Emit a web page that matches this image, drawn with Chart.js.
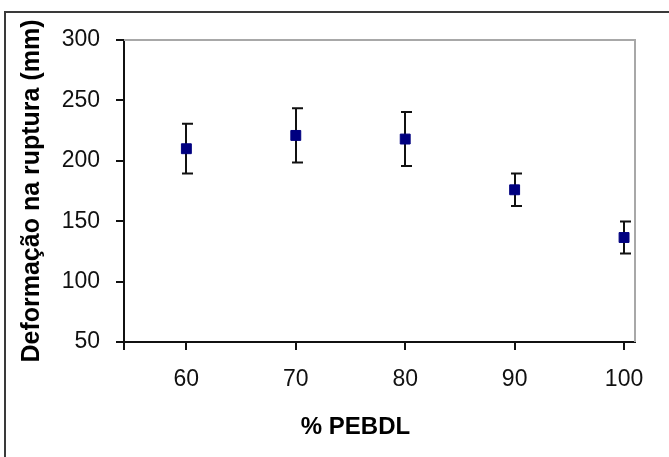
<!DOCTYPE html>
<html>
<head>
<meta charset="utf-8">
<script src="https://cdn.jsdelivr.net/npm/chart.js@4"></script>
<style>
  body { margin: 0; background: #fff; }
</style>
</head>
<body>
<canvas id="chart" width="669" height="457"></canvas>
<script>
// data
const pebdl = [60, 70, 80, 90, 100];
const deformacao = [210, 221, 218, 176, 136.5];
const erro = [20.6, 22.4, 22.4, 13.4, 13.2];
const xTicks = [60, 70, 80, 90, 100];
const yTicks = [50, 100, 150, 200, 250, 300];
const xMin = 54.3, xMax = 101;

const fontFamily = "'Liberation Sans', Arial, sans-serif";

// white page + outer frame (top and left edges only show)
const framePlugin = {
  id: "frame",
  beforeDraw(chart) {
    const ctx = chart.ctx;
    ctx.save();
    ctx.fillStyle = "#fff";
    ctx.fillRect(0, 0, chart.width, chart.height);
    ctx.fillStyle = "#3a3a3a";
    ctx.fillRect(4, 11, chart.width, 2);
    ctx.fillRect(4, 11, 2, chart.height);
    ctx.restore();
  }
};

// grey top/right plot edges and the error bars
const errorBarPlugin = {
  id: "errorBars",
  beforeDatasetsDraw(chart) {
    const ctx = chart.ctx, a = chart.chartArea;
    const xs = chart.scales.x, ys = chart.scales.y;
    ctx.save();
    ctx.strokeStyle = "#a8a8a8";
    ctx.lineWidth = 2;
    ctx.beginPath();
    ctx.moveTo(a.left, a.top);
    ctx.lineTo(a.right, a.top);
    ctx.lineTo(a.right, a.bottom);
    ctx.stroke();

    ctx.strokeStyle = "#111";
    ctx.lineWidth = 2;
    for (let i = 0; i < pebdl.length; i++) {
      const x = Math.round(xs.getPixelForValue(pebdl[i]));
      const top = ys.getPixelForValue(deformacao[i] + erro[i]);
      const bot = ys.getPixelForValue(deformacao[i] - erro[i]);
      ctx.beginPath();
      ctx.moveTo(x, top);
      ctx.lineTo(x, bot);
      ctx.moveTo(x - 4, top);
      ctx.lineTo(x + 7, top);
      ctx.moveTo(x - 4, bot);
      ctx.lineTo(x + 7, bot);
      ctx.stroke();
    }
    ctx.restore();
  }
};

const axisGrid = { drawOnChartArea: false, drawTicks: true, tickLength: 8, color: "#111", lineWidth: 2 };
const axisBorder = { color: "#111", width: 2 };

new Chart(document.getElementById("chart"), {
  type: "scatter",
  data: {
    datasets: [{
      data: pebdl.map((v, i) => ({ x: v, y: deformacao[i] })),
      pointStyle: "rect",
      pointRadius: 7,
      backgroundColor: "#000080",
      borderColor: "#000080",
      borderWidth: 1
    }]
  },
  options: {
    responsive: false,
    animation: false,
    devicePixelRatio: 1,
    layout: { padding: { left: 42, right: 0, top: 40, bottom: 0 } },
    plugins: {
      legend: { display: false },
      tooltip: { enabled: false },
      title: {
        display: true,
        position: "bottom",
        text: "% PEBDL",
        color: "#000",
        font: { family: fontFamily, size: 24, weight: "bold" },
        padding: { top: 0, bottom: 15 }
      }
    },
    scales: {
      x: {
        type: "linear",
        min: xMin,
        max: xMax,
        afterBuildTicks: axis => { axis.ticks = [xMin].concat(xTicks).map(v => ({ value: v })); },
        afterFit: axis => { axis.height = 71.2; },
        grid: axisGrid,
        border: axisBorder,
        ticks: {
          padding: 16,
          color: "#111",
          autoSkip: false,
          maxRotation: 0,
          font: { family: fontFamily, size: 23 },
          callback: v => xTicks.includes(v) ? v : ""
        }
      },
      y: {
        min: 50,
        max: 300,
        afterBuildTicks: axis => { axis.ticks = yTicks.map(v => ({ value: v })); },
        afterFit: axis => { axis.width = 82; },
        grid: axisGrid,
        border: axisBorder,
        ticks: {
          padding: 16,
          color: "#111",
          font: { family: fontFamily, size: 23 }
        },
        title: {
          display: true,
          text: "Deformação na ruptura (mm)",
          color: "#000",
          font: { family: fontFamily, size: 25, weight: "bold" },
          padding: { top: -25, bottom: 0 }
        }
      },
      // empty axis that only keeps the white margin on the right
      y2: {
        position: "right",
        afterFit: axis => { axis.width = 34; },
        grid: { display: false },
        border: { display: false },
        ticks: { display: false }
      }
    }
  },
  plugins: [framePlugin, errorBarPlugin]
});
</script>
</body>
</html>
